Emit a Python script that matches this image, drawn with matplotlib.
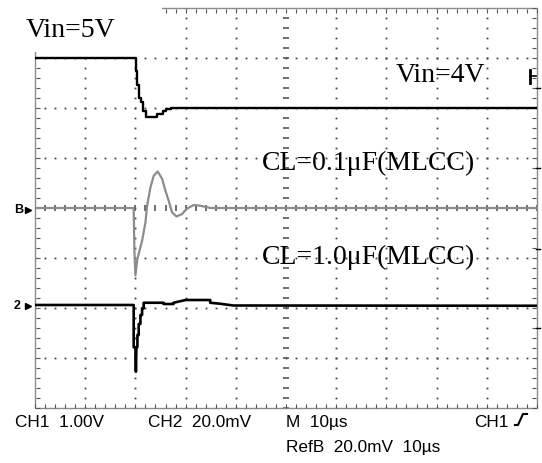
import numpy as np
import matplotlib
matplotlib.use("Agg")
import matplotlib.pyplot as plt
from matplotlib.lines import Line2D
from matplotlib.patches import Rectangle

# time in us (trigger at 0), 10 us/div, screen spans -20..80 us
# CH1: input voltage, 1.00 V/div (staircase as the scope draws it)
vin_t = [-20, 0.14, 0.4, 0.8, 1.2, 1.6, 2.2, 4.4, 5.4, 6.0, 7.1, 80]
vin_v = [5.0, 4.73, 4.47, 4.21, 4.11, 3.93, 3.82, 3.89, 3.93, 3.97, 4.0, 4.0]

# RefB: output deviation with CL=0.1uF, 20.0 mV/div
refb_t = [-20, -0.34, -0.2, 0.0, 0.4, 0.8, 1.33, 1.99, 2.33, 2.99, 3.65, 4.44,
          5.32, 5.98, 6.63, 7.31, 8.17, 9.3, 10.16, 11.61, 12.95, 14.94, 80]
refb_mv = [0.0, 0.0, -17.2, -27.0, -20.3, -17.2, -13.1, -5.9, 0.9, 8.2, 12.9, 14.6,
           11.7, 6.9, 2.9, -1.8, -3.4, -2.4, -0.4, 1.2, 0.9, 0.0, 0.0]

# CH2: output deviation with CL=1.0uF, 20.0 mV/div
ch2_t = [-20, -0.34, -0.34, 0.0, 0.1, 0.2, 0.4, 0.4, 0.66, 0.66, 1.0, 1.0, 1.33,
         1.33, 1.65, 1.65, 5.6, 5.6, 7.6, 7.6, 10.0, 14.9, 14.9, 16.9, 19.5, 80]
ch2_mv = [0.2, 0.2, -16.7, -16.7, -26.5, -16.6, -16.6, -11.8, -11.8, -7.4, -7.4,
          -3.8, -3.8, -1.1, -1.1, 1.1, 1.1, 0.6, 0.6, 1.1, 2.2, 2.2, 1.1, 0.7, 0.0, -0.1]

W, H = 542, 463
fig = plt.figure(figsize=(W / 100, H / 100), dpi=100)
ax = fig.add_axes([35 / W, 55 / H, 502 / W, 400 / H])
ax.set_xlim(0, 10)
ax.set_ylim(-4, 4)
ax.axis("off")


def fx(px):
    return px / W


def fy(py):
    return 1 - py / H


# graticule dots
minor = np.arange(0, 10.01, 0.2)
minor_y = np.arange(-4, 4.01, 0.2)
for i in range(1, 10):
    if i == 5:
        continue
    ax.plot(np.full_like(minor_y, i), minor_y, ls="none", marker="s", ms=1.3,
            color="#444444", mew=0, zorder=1)
for j in range(-3, 4):
    if j == 0:
        continue
    ax.plot(minor, np.full_like(minor, j), ls="none", marker="s", ms=1.3,
            color="#444444", mew=0, zorder=1)

# centre axes with minor ticks
ax.plot(np.full_like(minor_y, 5), minor_y, ls="none", marker="_", ms=5,
        mew=1.2, color="#555555", zorder=1)
ax.plot(minor, np.zeros_like(minor), ls="none", marker="|", ms=5,
        mew=1.2, color="#555555", zorder=1)

# border (top-left hidden behind the label box)
ax.plot([2.53, 10, 10, 0, 0], [4, 4, -4, -4, 3.12], color="#8a8a8a", lw=1.0,
        clip_on=False, zorder=2)
top_ticks = minor[minor >= 2.55]
ax.plot(top_ticks, np.full_like(top_ticks, 3.95), ls="none", marker="|", ms=3,
        mew=0.8, color="#555555", zorder=2)
ax.plot(minor, np.full_like(minor, -3.95), ls="none", marker="|", ms=3,
        mew=0.8, color="#555555", zorder=2)
left_ticks = minor_y[minor_y <= 3.1]
ax.plot(np.full_like(left_ticks, 0.05), left_ticks, ls="none", marker="_", ms=3,
        mew=0.8, color="#555555", zorder=2)
ax.plot(np.full_like(minor_y, 9.95), minor_y, ls="none", marker="_", ms=3,
        mew=0.8, color="#555555", zorder=2)

# traces in screen divisions
x1 = (np.array(vin_t) + 20) / 10
y1 = np.array(vin_v) - 2.0
ax.plot(x1, y1, drawstyle="steps-post", color="black", lw=1.7, zorder=4)

xb = (np.array(refb_t) + 20) / 10
yb = np.array(refb_mv) / 20.0
ax.plot(xb, yb, color="#8c8c8c", lw=1.6, zorder=3)

x2 = (np.array(ch2_t) + 20) / 10
y2 = np.array(ch2_mv) / 20.0 - 1.95
ax.plot(x2, y2, color="black", lw=1.9, zorder=4)

# white box behind the top-left label
fig.patches.append(Rectangle((0, fy(52)), fx(162), 1 - fy(52), transform=fig.transFigure,
                             facecolor="white", edgecolor="none", zorder=3))

serif = dict(family="Liberation Serif", size=20, va="baseline", ha="left")
fig.text(fx(26), fy(37), "Vin=5V", **serif, zorder=5)
fig.text(fx(396), fy(82), "Vin=4V", **serif)
fig.text(fx(262), fy(170), "CL=0.1\u03bcF(MLCC)", **serif)
fig.text(fx(262), fy(264), "CL=1.0\u03bcF(MLCC)", **serif)

# channel markers on the left
mono = dict(family="Liberation Sans", size=9, va="center", ha="left", weight="bold")
fig.text(fx(14), fy(210), "B", **mono)
fig.text(fx(14), fy(306), "2", **mono)
for py in (210, 306):
    fig.lines.append(Line2D([fx(28)], [fy(py)], marker=">", ms=5, color="black",
                            transform=fig.transFigure))

# trigger level marker and right-edge ticks
fig.lines.append(Line2D([fx(530), fx(530)], [fy(70), fy(83)], color="black", lw=2,
                        transform=fig.transFigure))
fig.lines.append(Line2D([fx(530), fx(536)], [fy(76), fy(76)], color="black", lw=1.2,
                        transform=fig.transFigure))
for py in (88, 168, 249, 328):
    fig.lines.append(Line2D([fx(536), fx(540)], [fy(py), fy(py)], color="black", lw=1,
                            transform=fig.transFigure))

# scope readouts
sans = dict(family="Liberation Sans", size=12.4, va="baseline", ha="left")
fig.text(fx(15), fy(427), "CH1  1.00V", **sans)
fig.text(fx(148), fy(427), "CH2  20.0mV", **sans)
fig.text(fx(286), fy(427), "M  10\u00b5s", **sans)
fig.text(fx(474), fy(427), "CH1", **sans)
fig.lines.append(Line2D([fx(515), fx(518), fx(523), fx(527)],
                        [fy(425), fy(425), fy(414), fy(414)], color="black", lw=1.5,
                        transform=fig.transFigure))
fig.text(fx(286), fy(452), "RefB  20.0mV  10\u00b5s", **sans)

fig.savefig("out.png", dpi=100, facecolor="white")
